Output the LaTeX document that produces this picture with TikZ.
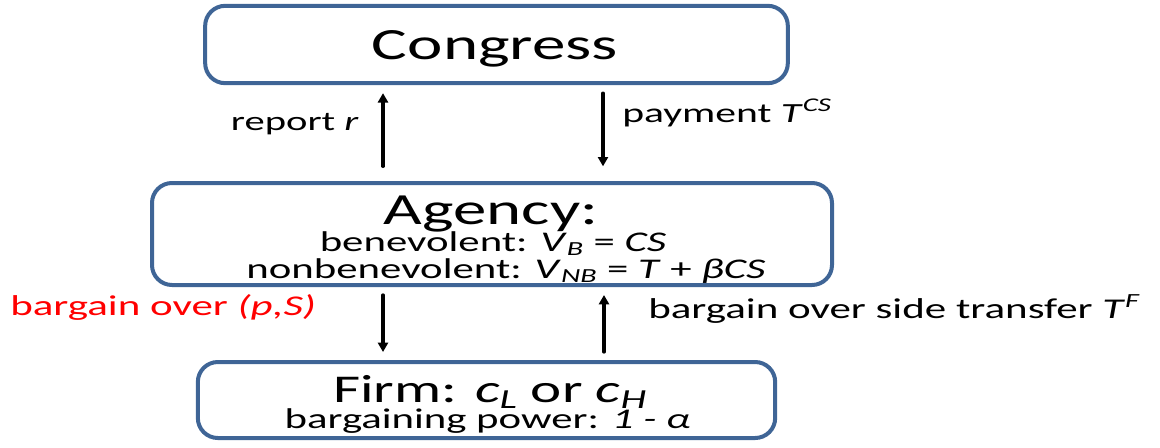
\documentclass[tikz,border=0pt]{standalone}
\usepackage{fontspec}
\setmainfont[FakeStretch=1.5]{Carlito}
\usepackage{tikz}
\usetikzlibrary{arrows.meta}
\definecolor{boxblue}{RGB}{63,101,150}
\definecolor{ffqqqq}{rgb}{1.,0.,0.}
\tikzstyle{every node}=[inner sep=0pt]
\tikzstyle{box}=[draw=boxblue,line width=3pt,rounded corners=15pt]
\tikzstyle{flow}=[->,line width=2.5pt]

\begin{document}
\begin{tikzpicture}[line cap=round,line join=round,>={Triangle[length=7pt,width=7.5pt]},x=0.75pt,y=-0.75pt]
                \useasboundingbox (0,0) rectangle (1160,447);
                \node [box,minimum width=437pt,minimum height=58pt] (congress) at (496.5,44.5) {};
                \node [box,minimum width=510pt,minimum height=76.5pt] (agency) at (492,234) {};
                \node [box,minimum width=433pt,minimum height=57pt] (firm) at (486.5,400) {};
                \node [anchor=base] (cgtxt) at (495,59) {\fontsize{33.5}{34}\selectfont Congress};
                \node [anchor=base] (agtxt) at (491,224) {\fontsize{33.4}{34}\selectfont Agency:};
                \node [anchor=base] (bentxt) at (493,251) {\fontsize{21.4}{22}\selectfont benevolent: \textit{V}\textsubscript{\textit{B}} = \textit{CS}};
                \node [anchor=base] (nbtxt) at (506,278) {\fontsize{21.4}{22}\selectfont nonbenevolent: \textit{V}\textsubscript{\textit{NB}} = \textit{T} + \textit{βCS}};
                \node [anchor=base] (fmtxt) at (490,402) {\fontsize{29.5}{30}\selectfont Firm: \textit{c}\textsubscript{\textit{L}} or \textit{c}\textsubscript{\textit{H}}};
                \node [anchor=base] (bptxt) at (487.5,428) {\fontsize{21.4}{22}\selectfont bargaining power: \textit{1 - α}};
                \coordinate (rx) at (383,0);
                \coordinate (px) at (603,0);
                \coordinate (bx) at (383,0);
                \coordinate (sx) at (604,0);
                \draw [flow,shorten <=11pt,shorten >=6pt] (agency.north -| rx) -- (congress.south -| rx);
                \draw [flow,shorten <=6pt,shorten >=11pt] (congress.south -| px) -- (agency.north -| px);
                \draw [flow,shorten <=6pt,shorten >=6pt] (agency.south -| bx) -- (firm.north -| bx);
                \draw [flow,shorten <=6pt,shorten >=6pt] (firm.north -| sx) -- (agency.south -| sx);
                \node [anchor=base east] (replbl) at (359,130) {\fontsize{20.3}{21}\selectfont report \textit{r}};
                \node [anchor=base west] (paylbl) at (622,122) {\fontsize{20.8}{21}\selectfont payment \textit{T}\textsuperscript{\textit{CS}}};
                \node [anchor=base west,color=ffqqqq] (bglbl) at (10,315) {\fontsize{21.5}{22}\selectfont bargain over \textit{(p,S)}};
                \node [anchor=base west] (sidelbl) at (648,318) {\fontsize{21.5}{22}\selectfont bargain over side transfer \textit{T}\textsuperscript{\textit{F}}};
            \end{tikzpicture}
\end{document}
